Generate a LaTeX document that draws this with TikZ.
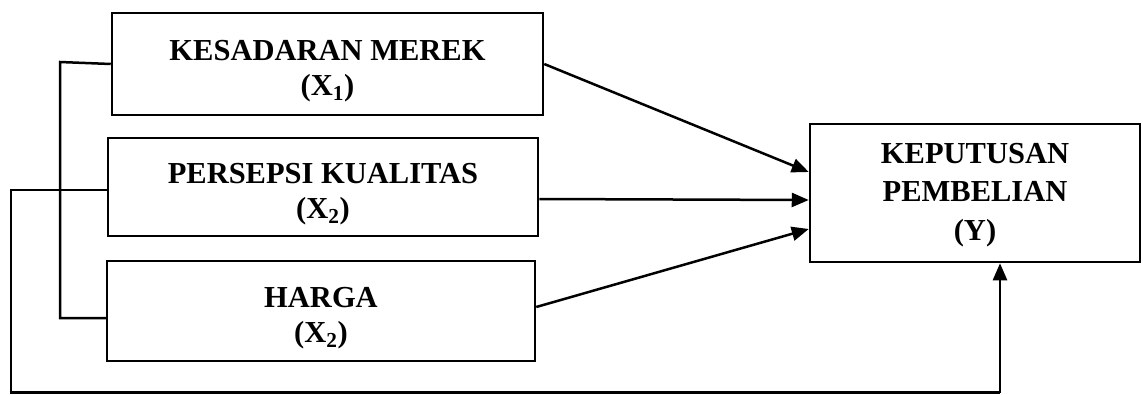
\documentclass[tikz,border=0pt]{standalone}
\usepackage{fontspec}
\setmainfont{Liberation Serif}
\usetikzlibrary{arrows.meta,calc}
\tikzset{
  varbox/.style={draw, line width=2.5pt, inner sep=0pt},
  vartext/.style={align=center, inner sep=0pt,
    font=\fontsize{30.5}{35}\selectfont\bfseries},
  link/.style={line width=2.5pt},
  arr/.style={line width=2.5pt, -{Triangle[length=17pt,width=14pt]}},
}
\begin{document}
\begin{tikzpicture}[x=1pt,y=-1pt]
\useasboundingbox (0,0) rectangle (1143,394);
% independent variables
\node[varbox, minimum width=431pt, minimum height=102pt] (x1) at (327.5,64) {};
\node[vartext] (x1t) at ([yshift=-7pt]x1.center) {KESADARAN MEREK\\(X\textsubscript{1})};
\node[varbox, minimum width=430pt, minimum height=98pt] (x2) at (323,187) {};
\node[vartext] (x2t) at ([yshift=-7pt]x2.center) {PERSEPSI KUALITAS\\(X\textsubscript{2})};
\node[varbox, minimum width=428pt, minimum height=100pt] (x3) at (321,311) {};
\node[vartext] (x3t) at ([yshift=-7pt]x3.center) {HARGA\\(X\textsubscript{2})};
% dependent variable
\node[varbox, minimum width=330pt, minimum height=138pt] (y) at (975,193) {};
\node[vartext, font=\fontsize{30.5}{38.5}\selectfont\bfseries] (yt)
  at ([yshift=-2pt]y.center) {KEPUTUSAN\\PEMBELIAN\\(Y)};
% partial effects
\draw[arr] (x1.east) -- ([yshift=21pt]y.west);
\draw[arr] ([yshift=-12pt]x2.east) -- ([yshift=-7pt]y.west);
\draw[arr] ([yshift=4pt]x3.east) -- ([yshift=-36pt]y.west);
% bracket joining the three variables
\coordinate (bt) at (60,62);
\coordinate (bb) at (60,318);
\coordinate (ol) at (11,190);
\coordinate (oc) at (11,392.5);
\coordinate (or) at (1000,392.5);
\draw[link] (x1.west) -- (bt) -- (bb) -- ([yshift=-7pt]x3.west);
\draw[link] ([yshift=-3pt]x2.west) -- (ol) -- (oc) -- (or);
% joint effect
\draw[arr] (or) -- (or |- y.south);
\end{tikzpicture}
\end{document}
